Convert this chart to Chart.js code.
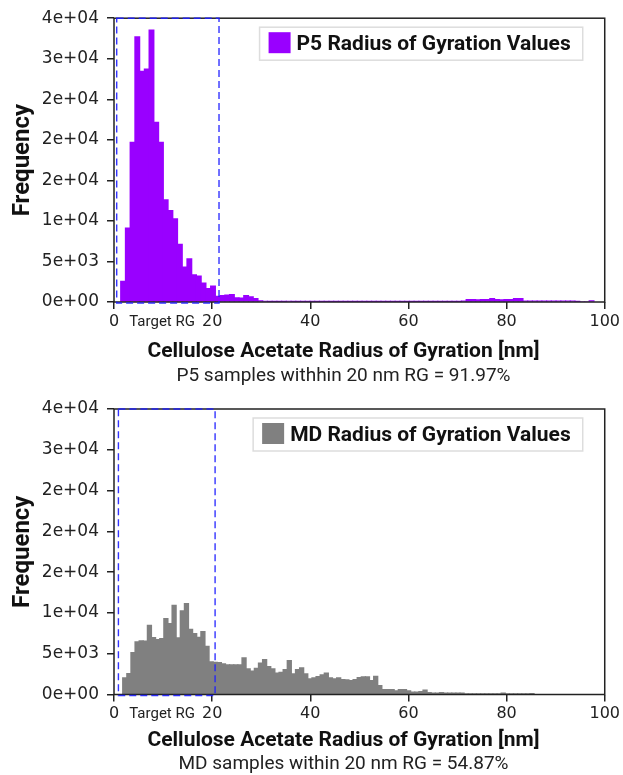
<!DOCTYPE html>
<html>
<head>
<meta charset="utf-8">
<script src="https://cdn.jsdelivr.net/npm/chart.js@4.4.1/dist/chart.umd.min.js"></script>
<style>
  html, body { margin: 0; padding: 0; background: #fff; }
  canvas { display: block; }
</style>
</head>
<body>
<canvas id="p5-chart" width="623" height="390"></canvas>
<canvas id="md-chart" width="623" height="385"></canvas>
<script>
// histogram counts, 100 bins each
const p5Values = [
  2540, 9110, 19700, 32700, 28430, 28720, 33520, 22160, 19700, 12600,
  11280, 10260, 7100, 4310, 5330, 3360, 3200, 2340, 1640, 1970,
  700, 780, 850, 900, 500, 480, 780, 650, 420, 130,
  90, 80, 80, 70, 80, 90, 80, 70, 70, 80,
  80, 70, 60, 70, 80, 70, 60, 60, 70, 70,
  60, 60, 70, 60, 60, 70, 60, 60, 60, 70,
  60, 60, 60, 70, 60, 60, 70, 60, 60, 70,
  60, 80, 100, 290, 290, 280, 290, 300, 410, 290,
  280, 290, 300, 410, 410, 120, 120, 120, 110, 120,
  120, 110, 120, 120, 110, 120, 40, 0, 0, 150
];
const mdValues = [
  2040, 2570, 5140, 6450, 6570, 6550, 8490, 6980, 6730, 6850,
  9300, 8690, 10930, 6940, 10240, 11140, 8000, 7470, 7000, 7700,
  5900, 4000, 3950, 3900, 3750, 3650, 3650, 3650, 3650, 4490,
  3140, 2860, 3220, 3840, 4280, 3430, 3140, 2610, 2730, 3060,
  4160, 2530, 3060, 3260, 2530, 1920, 2040, 2200, 2410, 2610,
  2040, 1920, 2040, 1840, 1800, 1710, 1840, 2080, 2160, 2160,
  1700, 2240, 1100, 610, 610, 610, 450, 610, 610, 450,
  290, 290, 370, 530, 245, 160, 160, 245, 160, 160,
  160, 160, 160, 40, 40, 40, 40, 40, 40, 40,
  40, 40, 160, 40, 40, 40, 40, 40, 40, 120
];
// data range covered by the bins [nm]
const p5BinRange = [1.37, 97.8];
const mdBinRange = [1.77, 85.6];
// target RG window drawn as dashed box [nm]
const p5Target = [0.55, 21.4];
const mdTarget = [0.9, 20.6];

const xTicks = [0, 20, 40, 60, 80, 100];
const yTickLabels = ["0e+00", "5e+03", "1e+04", "2e+04", "2e+04", "2e+04", "3e+04", "4e+04"];
const xTitle = "Cellulose Acetate Radius of Gyration [nm]";
const targetText = "Target RG";

function toBins(values, range) {
  const w = (range[1] - range[0]) / values.length;
  return values.map((v, i) => ({ x: range[0] + w * (i + 0.5), y: v }));
}

const framePlugin = {
  id: "frame",
  afterDatasetsDraw(chart, args, opts) {
    const { ctx, chartArea: a, scales } = chart;
    ctx.save();
    ctx.strokeStyle = "#222";
    ctx.lineWidth = 1.5;
    ctx.strokeRect(a.left, a.top, a.right - a.left, a.bottom - a.top);

    // dashed target box
    const x0 = scales.x.getPixelForValue(opts.target[0]);
    const x1 = scales.x.getPixelForValue(opts.target[1]);
    ctx.strokeStyle = "rgba(30, 30, 255, 0.9)";
    ctx.lineWidth = 1.4;
    ctx.setLineDash([7, 4]);
    ctx.strokeRect(x0, a.top, x1 - x0, a.bottom - a.top + 1);
    ctx.setLineDash([]);

    ctx.fillStyle = "#222";
    ctx.font = "15px Roboto";
    ctx.textAlign = "center";
    ctx.textBaseline = "middle";
    ctx.fillText(targetText, scales.x.getPixelForValue(9.8), a.bottom + 20);
    ctx.restore();
  }
};

const boxLegendPlugin = {
  id: "boxLegend",
  afterDraw(chart, args, opts) {
    const { ctx, chartArea: a } = chart;
    const ds = chart.data.datasets[0];
    ctx.save();
    ctx.font = "bold 21px Roboto";
    const tw = ctx.measureText(ds.label).width;
    const right = a.right - 22;
    const top = a.top + 9;
    const h = 33;
    const left = right - (37 + tw + 12);
    ctx.fillStyle = "rgba(255,255,255,0.85)";
    ctx.fillRect(left, top, right - left, h);
    ctx.strokeStyle = "#ddd";
    ctx.lineWidth = 1.5;
    ctx.strokeRect(left, top, right - left, h);
    ctx.fillStyle = ds.backgroundColor;
    ctx.fillRect(left + 9, top + 5, 22, 21);
    ctx.fillStyle = "#111";
    ctx.textBaseline = "middle";
    ctx.fillText(ds.label, left + 37, top + h / 2 + 1);
    ctx.restore();
  }
};

const captionPlugin = {
  id: "caption",
  afterDraw(chart, args, opts) {
    const { ctx, chartArea: a } = chart;
    ctx.save();
    ctx.textAlign = "center";
    ctx.textBaseline = "middle";
    ctx.fillStyle = "#111";
    ctx.font = "bold 21px Roboto";
    ctx.fillText(xTitle, 343.5, a.bottom + opts.titleGap);
    ctx.fillStyle = "#222";
    ctx.font = "19px Roboto";
    ctx.fillText(opts.note, 343.5, a.bottom + opts.noteGap);
    ctx.restore();
  }
};

function makeChart(id, values, range, color, label, target, note, layout) {
  const ctx = document.getElementById(id).getContext("2d");
  return new Chart(ctx, {
    type: "bar",
    data: {
      datasets: [{
        label: label,
        data: toBins(values, range),
        backgroundColor: color,
        borderWidth: 0,
        inflateAmount: 0.6,
        barPercentage: 1,
        categoryPercentage: 1
      }]
    },
    options: {
      responsive: false,
      animation: false,
      events: [],
      layout: { padding: { top: layout.top, right: 18, left: 0, bottom: 0 } },
      plugins: {
        legend: { display: false },
        tooltip: { enabled: false },
        frame: { target: target },
        caption: { note: note, titleGap: layout.titleGap, noteGap: layout.noteGap }
      },
      scales: {
        x: {
          type: "linear",
          offset: false,
          min: 0,
          max: 100,
          afterBuildTicks: s => { s.ticks = xTicks.map(v => ({ value: v })); },
          afterFit: s => { s.height = layout.xHeight; },
          ticks: {
            font: { family: "DejaVu Sans", size: 16 },
            color: "#222",
            padding: 3,
            maxRotation: 0,
            callback: v => v
          },
          grid: { offset: false, drawOnChartArea: false, tickLength: 7, color: "#222", lineWidth: 1.5 },
          border: { display: false }
        },
        y: {
          min: 0,
          max: 35000,
          afterFit: s => { s.width = 114; },
          ticks: {
            stepSize: 5000,
            font: { family: "DejaVu Sans", size: 17 },
            color: "#222",
            padding: 8,
            callback: (v, i) => yTickLabels[i]
          },
          grid: { drawOnChartArea: false, tickLength: 7, color: "#222", lineWidth: 1.5 },
          border: { display: false },
          title: {
            display: true,
            text: "Frequency",
            color: "#111",
            font: { family: "Roboto", size: 24, weight: "bold" },
            padding: { top: 9, bottom: 0 }
          }
        }
      }
    },
    plugins: [framePlugin, boxLegendPlugin, captionPlugin]
  });
}

makeChart("p5-chart", p5Values, p5BinRange, "#9900ff", "P5 Radius of Gyration Values",
  p5Target, "P5 samples withhin 20 nm RG = 91.97%",
  { top: 16, xHeight: 88, titleGap: 50, noteGap: 74 });

makeChart("md-chart", mdValues, mdBinRange, "#808080", "MD Radius of Gyration Values",
  mdTarget, "MD samples within 20 nm RG = 54.87%",
  { top: 19, xHeight: 80.5, titleGap: 46, noteGap: 70 });
</script>
</body>
</html>
